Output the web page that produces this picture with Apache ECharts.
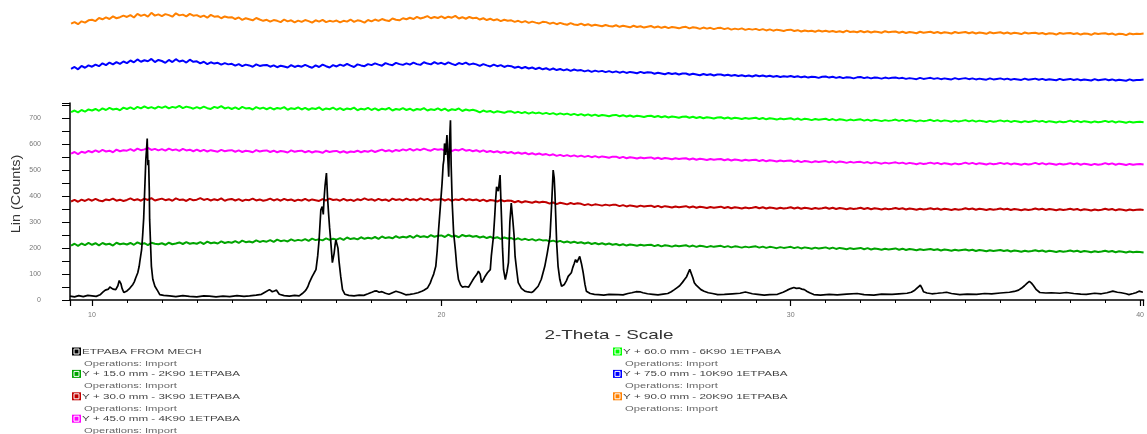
<!DOCTYPE html>
<html><head><meta charset="utf-8">
<script src="https://cdn.jsdelivr.net/npm/echarts@6/dist/echarts.min.js"></script>
<style>html,body{margin:0;padding:0;background:#fff}#c{width:1147px;height:434px}</style>
</head><body><div id="c"></div>
<script>
// ---- axis ranges / labels ----
const xMin = 9.37, xMax = 40.1;
const yMin = 0, yMax = 760;
const xTitle = '2-Theta - Scale';
const yTitle = 'Lin (Counts)';

// ---- series meta ----
const seriesNames = [
  'ETPABA FROM MECH',
  'Y + 15.0 mm - 2K90 1ETPABA',
  'Y + 30.0 mm - 3K90 1ETPABA',
  'Y + 45.0 mm - 4K90 1ETPABA',
  'Y + 60.0 mm - 6K90 1ETPABA',
  'Y + 75.0 mm - 10K90 1ETPABA',
  'Y + 90.0 mm - 20K90 1ETPABA'
];
const seriesColors = ['#000000', '#00a400', '#c00000', '#ff00ff', '#00ff00', '#0000ff', '#ff8000'];
const operationsText = 'Operations: Import';

// ---- step-scan grid of the offset scans (2-theta, degrees) ----
const scanStart = 9.4, scanStep = 0.1;

// ---- offset scans (counts), one value per step ----
const scanDarkGreen = [
210,217,209,218,212,220,
213,219,211,220,214,217,210,221,215,218,
214,220,213,222,216,219,212,221,217,215,
219,213,221,215,218,222,216,223,217,220,
217,223,216,225,219,222,218,226,220,224,
221,227,220,229,223,226,222,230,224,228,
225,231,224,233,227,230,226,234,228,232,
229,235,228,237,231,234,230,238,232,236,
233,239,232,241,235,238,234,242,236,240,
237,243,236,245,239,242,238,246,240,244,
241,247,240,249,243,246,242,250,244,248,
249,243,252,245,248,242,251,246,249,244,
247,241,245,239,244,238,242,236,241,237,
239,233,238,232,236,231,235,229,234,230,
231,226,229,224,228,222,226,221,225,220,
223,218,222,216,220,215,219,214,218,213,
216,211,215,210,214,212,209,213,210,212,
213,208,212,207,211,209,206,210,207,209,
211,206,210,205,209,207,204,208,205,207,
209,204,208,203,207,205,202,206,203,205,
207,202,206,201,205,203,200,204,201,203,
205,200,204,199,203,201,198,202,199,201,
203,198,202,197,201,199,196,200,197,199,
201,196,200,195,199,197,194,198,195,197,
199,194,198,193,197,195,192,196,193,195,
197,193,196,191,195,193,190,194,191,193,
195,191,194,189,193,191,188,192,189,191,
193,189,192,187,191,189,186,190,187,189,
192,188,191,186,190,188,185,189,186,188,
191,187,190,185,189,187,184,188,185,187,
190,186,189,184,188,186,183,187,184,186,
185,183];

const scanRed = [
380,386,379,387,382,389,
383,390,384,381,388,385,391,383,387,382,
386,392,385,389,383,391,386,393,384,388,
391,385,389,383,392,386,388,382,390,385,
387,393,386,390,384,389,385,392,383,388,
390,384,389,382,387,385,391,384,388,383,
386,391,384,389,383,390,385,388,382,387,
384,390,383,388,385,382,389,384,391,386,
388,383,390,384,387,382,389,385,392,386,
389,383,390,385,388,382,391,386,389,384,
391,385,389,384,392,386,390,383,388,387,
390,384,389,383,388,386,391,384,389,385,
388,382,387,381,386,384,380,386,381,384,
383,377,382,376,381,378,375,380,376,379,
377,372,376,370,375,372,369,374,370,373,
371,366,370,365,369,367,364,368,365,367,
367,362,366,361,365,363,360,364,361,363,
364,359,363,358,362,360,357,361,358,360,
362,357,361,356,360,358,355,359,356,358,
360,355,359,354,358,356,353,357,354,356,
359,354,358,353,357,355,352,356,353,355,
358,353,357,352,356,354,351,355,352,354,
357,352,356,351,355,353,350,354,351,353,
356,351,355,350,354,352,349,353,350,352,
355,351,354,349,353,351,348,352,349,351,
354,350,353,348,352,350,347,351,348,350,
354,350,353,348,352,350,347,351,348,350,
353,349,352,347,351,349,346,350,347,349,
353,349,352,347,351,349,346,350,347,349,
352,348,351,346,350,348,345,349,346,348,
352,348,351,346,350,348,345,349,346,348,
349,347];

const scanMagenta = [
565,571,563,572,568,575,
570,577,571,579,573,576,570,580,574,578,
576,582,575,584,578,581,587,579,583,577,
582,576,584,578,581,575,583,577,580,574,
580,574,579,573,578,575,572,579,574,577,
578,572,577,571,576,574,570,578,573,576,
577,571,576,570,575,573,569,577,572,575,
576,570,575,569,574,572,568,576,571,574,
575,569,574,568,573,571,576,570,575,572,
577,571,576,580,574,578,572,579,575,581,
577,583,576,582,578,584,579,576,583,580,
582,576,581,575,580,577,583,576,579,574,
578,572,577,571,575,570,574,568,572,567,
571,565,569,564,568,562,566,561,565,560,
563,558,562,556,560,555,559,554,558,553,
557,552,556,551,555,550,554,552,549,553,
553,548,552,547,551,549,546,550,547,549,
550,545,549,544,548,546,543,547,544,546,
547,542,546,541,545,543,540,544,541,543,
544,539,543,538,542,540,537,541,538,540,
541,536,540,535,539,537,534,538,535,537,
538,533,537,532,536,534,531,535,532,534,
536,531,535,530,534,532,529,533,530,532,
533,529,532,527,531,529,526,530,527,529,
531,527,530,525,529,527,524,528,525,527,
530,526,529,524,528,526,523,527,524,526,
530,525,529,524,528,526,523,527,524,526,
529,525,528,523,527,525,522,526,523,525,
529,524,528,523,527,525,522,526,523,525,
528,524,527,522,526,524,521,525,522,524,
528,524,527,522,526,524,521,525,522,524,
525,523];

const scanLime = [
725,731,724,733,727,735,
731,737,730,739,733,741,735,738,732,742,
737,743,736,745,739,747,740,744,738,746,
741,747,739,745,742,749,740,746,743,738,
744,739,746,740,737,745,741,748,739,743,
737,743,736,745,739,741,735,744,738,742,
736,742,735,741,738,744,734,740,737,743,
735,741,734,740,737,743,733,739,736,742,
734,740,733,739,736,742,732,738,735,741,
733,739,732,738,735,741,731,737,734,740,
733,738,731,737,734,740,731,736,733,739,
732,738,730,736,733,739,729,735,731,734,
730,724,731,726,729,723,728,725,722,727,
728,722,726,721,725,719,724,720,723,718,
722,717,721,715,720,716,719,714,718,713,
717,712,716,711,715,710,714,712,709,713,
714,709,713,708,712,707,711,709,706,710,
711,706,710,705,709,704,708,706,703,707,
708,703,707,702,706,701,705,703,700,704,
705,700,704,699,703,701,698,702,699,701,
703,698,702,697,701,699,696,700,697,699,
701,696,700,695,699,697,694,698,695,697,
699,694,698,693,697,695,692,696,693,695,
697,692,696,691,695,693,690,694,691,693,
696,691,695,690,694,692,689,693,690,692,
695,690,694,689,693,691,688,692,689,691,
694,689,693,688,692,690,687,691,688,690,
693,689,692,687,691,689,686,690,687,689,
692,688,691,686,690,688,685,689,686,688,
692,687,691,686,690,688,685,689,686,688,
691,687,690,685,689,687,684,688,685,687,
688,686];

const scanBlue = [
892,899,890,903,896,905,
900,908,902,913,906,916,909,918,911,920,
914,924,917,928,919,925,921,930,918,926,
922,915,926,918,929,920,924,916,927,919,
921,913,919,910,917,912,915,908,914,909,
911,904,910,902,908,905,900,909,903,906,
907,900,905,898,904,901,897,906,899,904,
900,907,901,896,905,899,908,902,897,906,
901,908,903,911,904,899,909,905,902,910,
906,913,908,904,914,909,906,915,910,907,
913,908,916,910,907,917,912,909,918,911,
915,909,917,911,906,914,910,916,908,912,
909,903,910,905,901,908,902,906,899,904,
902,896,900,894,899,893,897,891,896,890,
894,888,893,887,891,886,890,884,889,885,
887,882,886,880,885,881,884,879,883,878,
882,877,881,876,880,878,875,880,876,879,
878,873,877,874,871,876,872,875,870,874,
874,869,873,870,867,872,868,871,866,870,
870,866,869,865,868,864,867,863,866,862,
867,863,866,862,865,861,864,860,863,861,
864,860,863,859,862,858,861,860,857,861,
862,858,861,857,860,856,859,858,855,859,
860,856,859,855,858,857,854,858,855,857,
858,855,857,853,856,854,852,857,853,855,
857,853,856,852,855,853,851,856,852,854,
856,852,855,851,854,852,850,855,851,853,
855,851,854,850,853,851,849,854,850,852,
854,850,853,849,852,850,848,853,849,851,
853,849,852,848,851,849,847,852,848,850,
852,848,851,847,850,848,846,851,847,849,
849,851];

const scanOrange = [
1066,1072,1064,1075,1070,1079,
1081,1076,1088,1083,1090,1084,1094,1087,1091,1097,
1092,1099,1090,1104,1096,1101,1093,1108,1097,1102,
1095,1103,1099,1093,1106,1098,1101,1094,1104,1097,
1099,1092,1097,1089,1100,1093,1095,1087,1094,1090,
1091,1084,1090,1081,1087,1083,1079,1088,1082,1077,
1081,1074,1080,1077,1072,1082,1075,1079,1071,1078,
1073,1080,1076,1070,1079,1074,1081,1072,1077,1074,
1078,1071,1077,1074,1082,1073,1079,1076,1070,1080,
1075,1082,1077,1084,1079,1076,1086,1081,1079,1087,
1083,1089,1084,1092,1086,1090,1095,1087,1092,1088,
1094,1087,1093,1089,1096,1086,1091,1085,1092,1087,
1089,1082,1087,1080,1085,1079,1083,1076,1081,1077,
1079,1073,1077,1071,1076,1069,1074,1070,1067,1073,
1072,1066,1070,1064,1069,1065,1062,1068,1063,1061,
1066,1060,1064,1058,1062,1059,1056,1061,1057,1055,
1060,1054,1058,1055,1052,1058,1053,1056,1051,1054,
1057,1051,1055,1050,1054,1049,1053,1051,1048,1052,
1054,1048,1052,1050,1046,1051,1047,1050,1045,1049,
1050,1045,1049,1043,1047,1044,1048,1042,1046,1043,
1046,1041,1045,1040,1044,1039,1043,1041,1038,1042,
1043,1038,1041,1036,1040,1037,1039,1035,1040,1036,
1039,1035,1038,1034,1037,1033,1039,1034,1036,1033,
1038,1033,1037,1032,1036,1034,1031,1037,1033,1035,
1036,1031,1035,1030,1034,1032,1029,1035,1031,1033,
1035,1030,1034,1029,1033,1031,1028,1034,1030,1032,
1034,1029,1033,1028,1032,1030,1027,1033,1029,1031,
1033,1028,1032,1027,1031,1029,1026,1032,1028,1030,
1031,1027,1030,1025,1029,1028,1024,1030,1027,1029,
1030,1026,1029,1024,1028,1027,1023,1029,1026,1028,
1029,1025,1028,1023,1027,1026,1022,1028,1025,1027,
1026,1028];

// ---- main scan (2-theta, counts) ----
const scanBlack = [
[9.37,15],[9.5,12],[9.62,17],[9.75,13],[9.88,18],[10.0,16],[10.12,14],[10.23,20],[10.31,30],[10.38,38],
[10.43,45],[10.47,42],[10.51,50],[10.56,44],[10.6,42],[10.65,38],[10.68,40],[10.74,55],[10.78,75],[10.8,81],
[10.83,62],[10.86,45],[10.91,29],[10.96,32],[11.0,35],[11.05,40],[11.08,45],[11.13,52],[11.17,60],[11.21,70],
[11.25,85],[11.31,105],[11.35,130],[11.37,150],[11.42,194],[11.45,250],[11.48,317],[11.51,430],[11.54,540],[11.55,560],
[11.57,600],[11.58,623],[11.6,520],[11.62,540],[11.64,420],[11.65,309],[11.68,200],[11.7,130],[11.74,80],[11.8,53],
[11.88,35],[11.94,21],[12.05,18],[12.22,16],[12.4,13],[12.6,17],[12.79,14],[13.0,12],[13.2,16],[13.36,15],
[13.55,12],[13.75,15],[13.94,13],[14.15,17],[14.35,14],[14.51,16],[14.7,19],[14.85,22],[14.95,30],[15.0,35],
[15.08,40],[15.12,36],[15.16,32],[15.22,35],[15.28,38],[15.36,22],[15.5,17],[15.65,15],[15.8,18],[15.93,16],
[16.02,25],[16.08,32],[16.13,40],[16.18,52],[16.22,67],[16.3,90],[16.36,105],[16.41,117],[16.46,170],[16.5,232],
[16.55,348],[16.59,360],[16.62,330],[16.64,386],[16.67,440],[16.71,490],[16.74,400],[16.77,336],[16.8,280],[16.83,232],
[16.86,180],[16.88,144],[16.93,180],[16.96,215],[16.98,232],[17.01,225],[17.04,200],[17.07,150],[17.12,90],[17.17,40],
[17.24,22],[17.35,18],[17.5,16],[17.65,19],[17.78,18],[17.9,24],[18.01,30],[18.08,34],[18.15,35],[18.22,30],
[18.3,32],[18.4,26],[18.5,22],[18.6,28],[18.7,34],[18.77,31],[18.84,28],[18.98,20],[19.1,22],[19.21,24],
[19.33,28],[19.44,34],[19.5,38],[19.55,40],[19.6,46],[19.64,53],[19.68,65],[19.72,80],[19.78,100],[19.84,130],
[19.88,190],[19.92,271],[19.97,360],[20.02,451],[20.05,520],[20.07,540],[20.09,604],[20.12,560],[20.14,600],[20.16,636],
[20.18,560],[20.21,476],[20.23,600],[20.26,693],[20.28,520],[20.31,374],[20.35,260],[20.4,194],[20.44,130],[20.49,79],
[20.55,58],[20.6,50],[20.64,48],[20.68,52],[20.72,55],[20.78,50],[20.83,53],[20.89,75],[20.94,86],[20.97,91],
[21.02,100],[21.06,111],[21.11,100],[21.15,67],[21.18,72],[21.21,80],[21.25,91],[21.32,105],[21.4,117],[21.43,170],
[21.49,245],[21.53,330],[21.55,380],[21.58,437],[21.63,420],[21.68,482],[21.7,400],[21.72,322],[21.75,200],[21.78,117],
[21.83,79],[21.88,110],[21.92,144],[21.94,220],[21.96,300],[22.0,374],[22.03,367],[22.05,300],[22.08,250],[22.11,168],
[22.16,110],[22.2,67],[22.29,45],[22.39,34],[22.48,31],[22.58,29],[22.64,34],[22.69,40],[22.77,53],[22.86,80],
[22.96,130],[23.03,180],[23.11,245],[23.16,380],[23.2,501],[23.23,470],[23.25,413],[23.3,220],[23.34,130],[23.39,80],
[23.44,53],[23.52,60],[23.58,75],[23.63,91],[23.72,105],[23.76,125],[23.8,140],[23.84,156],[23.88,145],[23.91,150],
[23.96,168],[24.01,140],[24.06,105],[24.11,60],[24.15,34],[24.26,25],[24.38,22],[24.49,21],[24.65,19],[24.8,22],
[25.06,21],[25.2,20],[25.34,25],[25.45,28],[25.57,32],[25.62,34],[25.7,31],[25.77,28],[25.9,24],[26.05,22],
[26.2,20],[26.35,23],[26.48,25],[26.58,32],[26.67,40],[26.75,48],[26.82,55],[26.9,68],[26.96,79],[27.02,90],
[27.05,100],[27.11,118],[27.15,111],[27.2,85],[27.24,67],[27.3,56],[27.34,50],[27.43,40],[27.52,34],[27.64,28],
[27.76,25],[27.91,21],[28.1,22],[28.33,24],[28.55,26],[28.7,31],[28.76,29],[28.9,24],[29.05,22],[29.24,19],
[29.4,21],[29.62,22],[29.78,30],[29.9,38],[30.0,44],[30.09,48],[30.16,45],[30.24,46],[30.32,42],[30.39,40],
[30.47,33],[30.54,28],[30.66,21],[30.85,19],[31.1,22],[31.33,20],[31.6,23],[31.9,25],[32.1,21],[32.38,19],
[32.6,23],[32.9,22],[33.1,24],[33.33,26],[33.45,30],[33.55,38],[33.63,48],[33.71,57],[33.76,45],[33.8,32],
[33.9,27],[34.04,24],[34.2,26],[34.35,28],[34.46,30],[34.6,25],[34.84,21],[35.05,23],[35.32,22],[35.55,25],
[35.75,24],[36.0,27],[36.26,30],[36.4,33],[36.52,38],[36.6,45],[36.69,55],[36.76,64],[36.83,72],[36.89,65],
[36.94,57],[37.03,40],[37.13,29],[37.3,27],[37.46,28],[37.7,26],[37.89,29],[38.1,25],[38.3,23],[38.46,22],
[38.7,26],[38.89,24],[39.05,28],[39.22,34],[39.35,30],[39.46,28],[39.6,24],[39.68,21],[39.8,25],[39.88,28],
[39.97,34],[40.08,30]];

// ---- build ----
function pair(values) {
  return values.map((v, i) => [+(scanStart + i * scanStep).toFixed(2), v]);
}
const seriesData = [scanBlack, pair(scanDarkGreen), pair(scanRed), pair(scanMagenta),
                    pair(scanLime), pair(scanBlue), pair(scanOrange)];

const FONT = 'Liberation Sans, Arial, sans-serif';
const graphics = [
  { type: 'text', x: 609, y: 335, scaleX: 1.45,
    style: { text: xTitle, fontSize: 13, fontFamily: FONT, fill: '#333', align: 'center', verticalAlign: 'middle' } },
  { type: 'text', x: 17, y: 194, rotation: Math.PI / 2, scaleX: 1.2,
    style: { text: yTitle, fontSize: 12, fontFamily: FONT, fill: '#333', align: 'center', verticalAlign: 'middle' } }
];
seriesNames.forEach((name, i) => {
  const col = i < 4 ? 0 : 1;
  const row = col === 0 ? i : i - 4;
  const ix = col === 0 ? 72 : 613;
  const y = 351.5 + row * 22.4;
  graphics.push({ type: 'rect', shape: { x: ix, y: y - 4, width: 9, height: 8 }, style: { fill: seriesColors[i] } });
  graphics.push({ type: 'rect', shape: { x: ix + 2, y: y - 2.5, width: 5, height: 5 }, style: { fill: 'none', stroke: '#fff', lineWidth: 1 } });
  graphics.push({ type: 'text', x: ix + 10, y: y, scaleX: 1.45,
    style: { text: name, fontSize: 8, fontFamily: FONT, fill: '#444', verticalAlign: 'middle' } });
  graphics.push({ type: 'text', x: ix + 12, y: y + 12, scaleX: 1.4,
    style: { text: operationsText, fontSize: 8, fontFamily: FONT, fill: '#666', verticalAlign: 'middle' } });
});

const chart = echarts.init(document.getElementById('c'), null, { renderer: 'canvas' });
chart.setOption({
  animation: false,
  backgroundColor: '#fff',
  grid: { left: 70, right: 0, top: 103, bottom: 134 },
  xAxis: [
    { type: 'value', min: xMin, max: xMax, splitNumber: 31, position: 'bottom',
      axisLine: { show: true, lineStyle: { color: '#000', width: 1.5 } },
      axisTick: { show: true, length: 3, lineStyle: { color: '#000', width: 1 } },
      axisLabel: { show: false }, splitLine: { show: false } },
    { type: 'value', min: xMin, max: xMax, splitNumber: 3, position: 'bottom',
      axisLine: { show: false },
      axisTick: { show: true, length: 6, lineStyle: { color: '#000', width: 1.2 } },
      axisLabel: { show: true, fontSize: 7, color: '#777', fontFamily: FONT, margin: 12,
        formatter: v => (Math.abs(v % 10) < 1e-6 ? String(v) : '') },
      splitLine: { show: false } }
  ],
  yAxis: {
    type: 'value', min: yMin, max: yMax, interval: 50,
    axisLine: { show: true, lineStyle: { color: '#000', width: 1.5 } },
    axisTick: { show: true, length: 8, lineStyle: { color: '#000', width: 1 } },
    axisLabel: { fontSize: 7, color: '#777', fontFamily: FONT, margin: 29,
      formatter: v => (v % 100 === 0 && v <= 700 ? String(v) : '') },
    splitLine: { show: false }
  },
  series: seriesData.map((d, i) => ({
    type: 'line', name: seriesNames[i], data: d, xAxisIndex: 0,
    showSymbol: false, clip: false, sampling: null,
    lineStyle: { color: seriesColors[i], width: i === 0 ? 1.7 : 2 },
    z: 10 - i
  })),
  graphic: graphics
});
</script>
</body></html>
